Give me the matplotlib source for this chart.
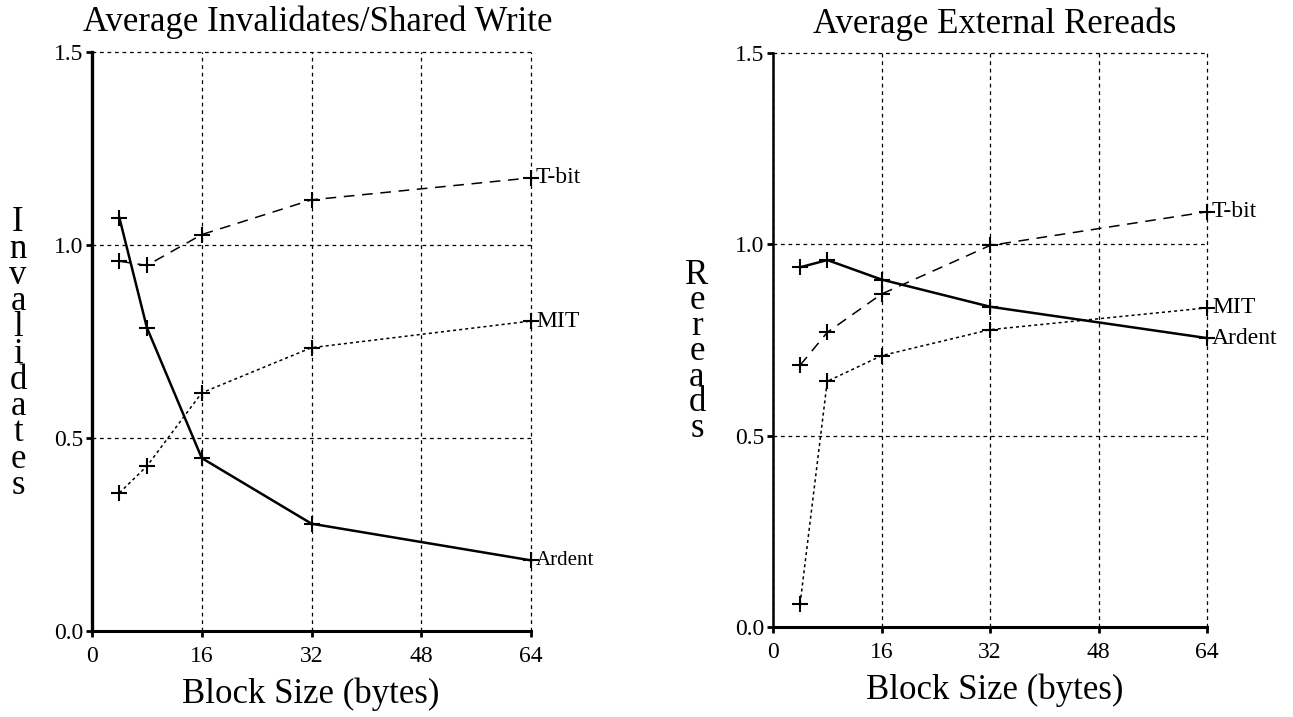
import matplotlib
matplotlib.use("Agg")
import matplotlib.pyplot as plt

plt.rcParams["font.family"] = ["Liberation Serif", "DejaVu Serif"]

# block sizes in bytes
block_sizes = [4, 8, 16, 32, 64]
x_ticks = [0, 16, 32, 48, 64]
y_ticks = [0.0, 0.5, 1.0, 1.5]

# left panel: average invalidates per shared write
inv_ardent = [1.07, 0.786, 0.448, 0.278, 0.183]
inv_tbit = [0.958, 0.947, 1.027, 1.117, 1.174]
inv_mit = [0.358, 0.427, 0.617, 0.734, 0.803]

# right panel: average external rereads
rr_ardent = [0.94, 0.959, 0.908, 0.837, 0.755]
rr_tbit = [0.684, 0.770, 0.870, 0.997, 1.085]
rr_mit = [0.061, 0.642, 0.709, 0.777, 0.834]

styles = {
    "Ardent": dict(ls="-", lw=1.8),
    "T-bit": dict(ls=(0, (7, 5)), lw=1.1),
    "MIT": dict(ls=(0, (2, 2)), lw=1.1),
}

W, H = 1293, 717
fig = plt.figure(figsize=(W / 100, H / 100), dpi=100)


def px_axes(x0, x1, ytop, ybot):
    return fig.add_axes([x0 / W, 1 - ybot / H, (x1 - x0) / W, (ybot - ytop) / H])


def setup(ax, spine_lw):
    ax.set_xlim(0, 64)
    ax.set_ylim(0, 1.5)
    ax.set_xticks(x_ticks)
    ax.set_yticks(y_ticks)
    ax.set_yticklabels([f"{v:.1f}" for v in y_ticks])
    for s in ["top", "right"]:
        ax.spines[s].set_visible(False)
    ax.spines["left"].set_linewidth(spine_lw)
    ax.spines["bottom"].set_linewidth(2.2)
    ax.tick_params(axis="both", direction="out", length=4, width=2,
                   labelsize=17, pad=2)
    ax.tick_params(axis="x", pad=7)
    ax.grid(True, color="black", lw=0.9, ls=(0, (3, 3)))
    for gl in ax.get_xgridlines() + ax.get_ygridlines():
        gl.set_clip_on(False)
    ax.set_axisbelow(True)


def draw(ax, series, fs_labels):
    for name, vals in series:
        ax.plot(block_sizes, vals, color="black", marker="+", ms=11, mew=1.5,
                clip_on=False, **styles[name])
        ax.annotate(name, (block_sizes[-1], vals[-1]), xytext=(5, 0),
                    textcoords="offset pixels", va="center", ha="left",
                    fontsize=fs_labels[name], annotation_clip=False)


ax1 = px_axes(92, 531, 52, 631)
setup(ax1, 2.4)
draw(ax1, [("Ardent", inv_ardent), ("T-bit", inv_tbit), ("MIT", inv_mit)],
     {"Ardent": 15, "T-bit": 17, "MIT": 17})

ax2 = px_axes(773, 1207, 53, 627)
setup(ax2, 1.8)
draw(ax2, [("Ardent", rr_ardent), ("T-bit", rr_tbit), ("MIT", rr_mit)],
     {"Ardent": 17, "T-bit": 17, "MIT": 17})

# titles and axis labels
fig.text(318 / W, 1 - 22 / H, "Average Invalidates/Shared Write",
         ha="center", va="center", fontsize=25)
fig.text(995 / W, 1 - 24 / H, "Average External Rereads",
         ha="center", va="center", fontsize=25)
fig.text(311 / W, 1 - 694 / H, "Block Size (bytes)",
         ha="center", va="center", fontsize=25)
fig.text(995 / W, 1 - 690 / H, "Block Size (bytes)",
         ha="center", va="center", fontsize=25)

fig.text(18 / W, 1 - 354 / H, "\n".join("Invalidates"),
         ha="center", va="center", fontsize=25, linespacing=0.73)
fig.text(697 / W, 1 - 352 / H, "\n".join("Rereads"),
         ha="center", va="center", fontsize=25, linespacing=0.7)

fig.savefig("out.png", dpi=100, facecolor="white")
